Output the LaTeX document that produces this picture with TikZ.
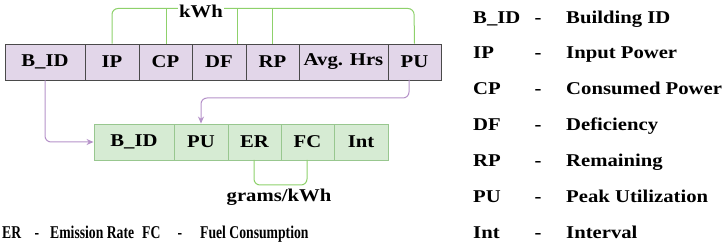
\documentclass[tikz,border=0pt]{standalone}
\usepackage{fontspec}
\setmainfont{Liberation Serif}[FakeStretch=1.15]
\newfontfamily\condfont{Liberation Serif}[FakeStretch=0.76]
\usetikzlibrary{arrows.meta}
\definecolor{pfill}{HTML}{E2D6E9}
\definecolor{pborder}{HTML}{4A4A4A}
\definecolor{gfill}{HTML}{D6EBD3}
\definecolor{gborder}{HTML}{98C78F}
\definecolor{gline}{HTML}{8ED16B}
\definecolor{pline}{HTML}{B592C9}
\tikzset{
  txt/.style={font=\bfseries\fontsize{18}{20}\selectfont, inner sep=0pt},
  ctxt/.style={font=\condfont\bfseries\fontsize{18}{20}\selectfont, inner sep=0pt},
  pcell/.style={draw=pborder, fill=pfill, line width=0.9pt, minimum height=36pt, inner sep=0pt, font=\bfseries\fontsize{18}{20}\selectfont},
  gcell/.style={draw=gborder, fill=gfill, line width=0.9pt, minimum height=36pt, inner sep=0pt, font=\bfseries\fontsize{18}{20}\selectfont},
  gconn/.style={draw=gline, line width=1pt, rounded corners=6pt},
  pconn/.style={draw=pline, line width=1pt, rounded corners=6pt, -{Stealth[length=7pt,width=6pt]}},
}
\begin{document}
\begin{tikzpicture}[x=1pt,y=-1pt]
\useasboundingbox (0,0) rectangle (726,243);
% top row
\node[pcell, minimum width=80pt] (t1) at (45,62) {B\_ID};
\node[pcell, minimum width=54pt] (t2) at (112,62) {IP};
\node[pcell, minimum width=53pt] (t3) at (165.5,62) {CP};
\node[pcell, minimum width=54pt] (t4) at (219,62) {DF};
\node[pcell, minimum width=53pt] (t5) at (272.5,62) {RP};
\node[pcell, minimum width=89pt] (t6) at (343.5,62) {Avg. Hrs};
\node[pcell, minimum width=53pt] (t7) at (414.5,62) {PU};
% bottom row
\node[gcell, minimum width=80pt] (b1) at (134,142) {B\_ID};
\node[gcell, minimum width=54pt] (b2) at (201,142) {PU};
\node[gcell, minimum width=53pt] (b3) at (254.5,142) {ER};
\node[gcell, minimum width=53pt] (b4) at (307.5,142) {FC};
\node[gcell, minimum width=54pt] (b5) at (361,142) {Int};
% kWh bracket
\coordinate (k1) at (112,8.5);
\coordinate (k2) at (414,8.5);
\draw[gconn] (t2.north) -- (k1) -- (k2) -- (t7.north);
\draw[gconn] (166,44) -- (166,8.5);
\draw[gconn] (237,44) -- (237,8.5);
\draw[gconn] (272,44) -- (272,8.5);
\node[txt, fill=white, inner xsep=1pt, inner ysep=1pt] (kwh) at (201,11) {kWh};
% grams/kWh bracket
\coordinate (g1) at (254,185);
\coordinate (g2) at (307,185);
\draw[gconn] (254,160) -- (g1) -- (g2) -- (307,160);
\node[txt, anchor=base] (gk) at (279,201) {grams/kWh};
% purple arrows
\draw[pconn] (409,80) -- (409,98) -- (201,98) -- (b2.north);
\draw[pconn] (t1.south) -- (45,142) -- (b1.west);
% legend right (baselines)
\foreach \y/\a/\d [count=\i] in {24/B\_ID/Building ID, 59/IP/Input Power, 95/CP/Consumed Power, 131/DF/Deficiency, 167/RP/Remaining, 202/PU/Peak Utilization, 238/Int/Interval}{
  \node[txt, anchor=base west] (la\i) at (473,\y) {\a};
  \node[txt, anchor=base] (ld\i) at (538,\y) {-};
  \node[txt, anchor=base west] (lx\i) at (566,\y) {\d};
}
% bottom legend
\node[ctxt, anchor=base west] (er) at (2,238) {ER};
\node[ctxt, anchor=base] (erd) at (37,238) {-};
\node[ctxt, anchor=base west] (ern) at (50,238) {Emission Rate};
\node[ctxt, anchor=base west] (fc) at (142,238) {FC};
\node[ctxt, anchor=base] (fcd) at (180,238) {-};
\node[ctxt, anchor=base west] (fcn) at (200,238) {Fuel Consumption};
\end{tikzpicture}
\end{document}
